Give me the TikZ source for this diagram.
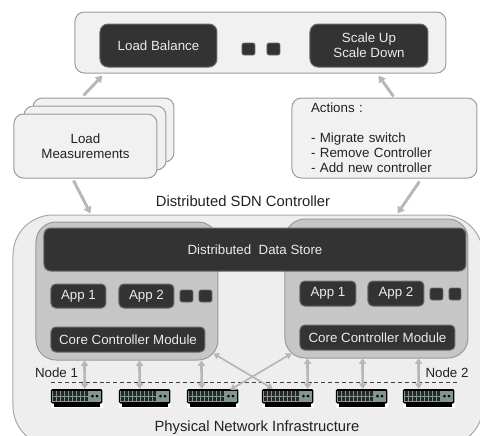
\documentclass[tikz,border=0pt]{standalone}
\usepackage{fontspec}
\setmainfont{Liberation Sans}
\usetikzlibrary{arrows.meta,calc}
\definecolor{inktext}{HTML}{222222}
\definecolor{darkfill}{HTML}{333333}
\definecolor{darkedge}{HTML}{6A6A6A}
\definecolor{lightfill}{HTML}{F1F1F1}
\definecolor{outerfill}{HTML}{EEEEEE}
\definecolor{edgegray}{HTML}{9A9A9A}
\definecolor{ctrlfill}{HTML}{C6C6C6}
\definecolor{arrowgray}{HTML}{B7B7B7}
\definecolor{swfill}{HTML}{7F9790}
\newlength{\pxu}\setlength{\pxu}{0.75pt}
% name, style, x0, y0, x1, y1, text
\newcommand{\bx}[7]{%
  \pgfmathsetmacro{\bxw}{(#5)-(#3)}%
  \pgfmathsetmacro{\bxh}{(#6)-(#4)}%
  \pgfmathsetmacro{\bxx}{((#3)+(#5))/2}%
  \pgfmathsetmacro{\bxy}{((#4)+(#6))/2}%
  \node[#2,minimum width=\bxw\pxu,minimum height=\bxh\pxu] (#1) at (\bxx,\bxy) {#7};%
}
% switch: name, left x, top y
\newcommand{\swt}[3]{%
  \bx{#1}{swhalo}{#2}{#3}{#2+52}{#3+19}{}%
  \begin{scope}[shift={(#2,#3)}]
    \fill[black] (3,14) rectangle (49,18);
    \fill[black,rounded corners=1pt] (0,0) rectangle (51.5,14.5);
    \fill[swfill] (1.5,1.5) rectangle (50,13);
    \foreach \gx in {2,6,...,34} {\fill[black!85] (\gx,2.2) rectangle (\gx+3.3,6.9);\fill[black!85] (\gx,7.7) rectangle (\gx+3.3,12.2);}
    \fill[black] (41.5,7) circle (1.5) (46,7) circle (1.5);
  \end{scope}%
}
\tikzset{
  x=0.75pt,y=-0.75pt,
  every node/.style={font=\fontsize{10}{11.25}\selectfont,text=inktext,inner sep=0pt,align=center},
  lightbox/.style={draw=edgegray,fill=lightfill,line width=0.75pt,rounded corners=7pt},
  darkbox/.style={draw=darkedge,fill=darkfill,line width=0.75pt,rounded corners=3.5pt,text=white!92!black},
  dots/.style={draw=darkedge,fill=darkfill,line width=0.5pt,rounded corners=1.5pt},
  ctrl/.style={draw=edgegray,fill=ctrlfill,line width=0.75pt,rounded corners=15pt},
  outerbox/.style={draw=edgegray!85,fill=outerfill,line width=0.75pt,rounded corners=30pt},
  swhalo/.style={fill=white},
  flow/.style={draw=arrowgray,line width=2.2pt,-{Triangle[length=5pt,width=6pt]}},
  link/.style={draw=arrowgray,line width=2pt,{Triangle[length=4pt,width=5.5pt]}-{Triangle[length=4pt,width=5.5pt]}},
  cross/.style={draw=arrowgray,line width=1.3pt,{Triangle[length=4pt,width=5pt]}-{Triangle[length=4pt,width=5pt]}},
  plain/.style={font=\fontsize{10}{11.25}\selectfont},
  titletext/.style={font=\fontsize{11.1}{13}\selectfont}
}
\begin{document}
\begin{tikzpicture}
\useasboundingbox (0,0) rectangle (480,436);
\begin{scope}
\clip (0,0) rectangle (480,436);
\bx{outer}{outerbox}{13}{215}{483}{446}{}
\end{scope}
% top panel
\bx{top}{lightbox}{75}{12}{446}{73}{}
\bx{lb}{darkbox,rounded corners=6pt}{100}{24}{217}{67}{Load Balance}
\bx{su}{darkbox,rounded corners=6pt}{310}{24}{428}{67}{Scale Up\\Scale Down}
\bx{tdA}{dots}{242}{43}{255}{55}{}
\bx{tdB}{dots}{267}{43}{280}{55}{}
% load measurements stack
\bx{lmC}{lightbox}{33}{98}{174}{162}{}
\bx{lmB}{lightbox}{24}{106}{166}{170}{}
\bx{lmA}{lightbox}{14}{114}{157}{178}{Load\\Measurements}
% actions
\bx{act}{lightbox,inner xsep=19\pxu,text width=147\pxu,align=left}{292}{98}{477}{178}{Actions :\\[11.25pt]- Migrate switch\\- Remove Controller\\- Add new controller}
% title labels
\node[titletext] (tDist) at (243,201) {Distributed SDN Controller};
% controllers
\bx{cA}{ctrl}{36}{222}{218}{360}{}
\bx{cB}{ctrl}{285}{219}{468}{358}{}
\bx{store}{darkbox,rounded corners=5pt}{44}{228}{466}{271}{Distributed\ \ Data Store}
\bx{a1}{darkbox}{51}{284}{106}{308}{App 1}
\bx{a2}{darkbox}{119}{284}{174}{308}{App 2}
\bx{adA}{dots}{180}{290}{193}{302}{}
\bx{adB}{dots}{199}{290}{212}{302}{}
\bx{coreA}{darkbox}{51}{327}{205}{352}{Core Controller Module}
\bx{b1}{darkbox}{300}{281}{356}{306}{App 1}
\bx{b2}{darkbox}{368}{281}{424}{306}{App 2}
\bx{bdA}{dots}{430}{288}{443}{300}{}
\bx{bdB}{dots}{449}{288}{461}{300}{}
\bx{coreB}{darkbox}{300}{325}{455}{350}{Core Controller Module}
% switches
\swt{s1}{51}{389}
\swt{s2}{119}{389}
\swt{s3}{187}{389}
\swt{s4}{262}{389}
\swt{s5}{336}{389}
\swt{s6}{403}{389}
% dashed boundary
\coordinate (dL) at (51,382.5);
\coordinate (dR) at (460,382.5);
\draw[dashed,line width=0.75pt,draw=black!75,dash pattern=on 3pt off 2.2pt] (dL) -- (dR);
\node[plain] (n1) at (56.5,373) {Node 1};
\node[plain] (n2) at (447,373) {Node 2};
\node[titletext] (tPhys) at (257,428) {Physical Network Infrastructure};
% connectors
\draw[flow] ([xshift=51\pxu,yshift=2\pxu]lmC.north west) -- ([xshift=28\pxu,yshift=-2\pxu]top.south west);
\draw[flow] ([xshift=102\pxu,yshift=1\pxu]act.north west) -- ([xshift=-68\pxu,yshift=-2\pxu]top.south east);
\draw[flow] ([xshift=60\pxu,yshift=-2\pxu]lmA.south west) -- ([xshift=78\pxu,yshift=1\pxu]outer.north west);
\draw[flow] ([xshift=128\pxu,yshift=-3\pxu]act.south west) -- ([xshift=385\pxu,yshift=1\pxu]outer.north west);
\draw[link] ([xshift=34\pxu]s1.north west) -- ([xshift=49\pxu]cA.south west);
\draw[link] ([xshift=21\pxu]s2.north west) -- ([xshift=104\pxu]cA.south west);
\draw[link] ([xshift=15\pxu]s3.north west) -- ([xshift=166\pxu]cA.south west);
\draw[link] ([xshift=46\pxu]s4.north west) -- ([xshift=23\pxu]cB.south west);
\draw[link] ([xshift=27\pxu]s5.north west) -- ([xshift=78\pxu]cB.south west);
\draw[link] ([xshift=16\pxu]s6.north west) -- ([xshift=134\pxu]cB.south west);
\draw[cross] ([xshift=-9\pxu,yshift=-1\pxu]s3.north east) -- ([xshift=7\pxu,yshift=5\pxu]cB.south west);
\draw[cross] ([xshift=11\pxu]s4.north west) -- ([xshift=-5\pxu,yshift=7\pxu]cA.south east);
\end{tikzpicture}
\end{document}
